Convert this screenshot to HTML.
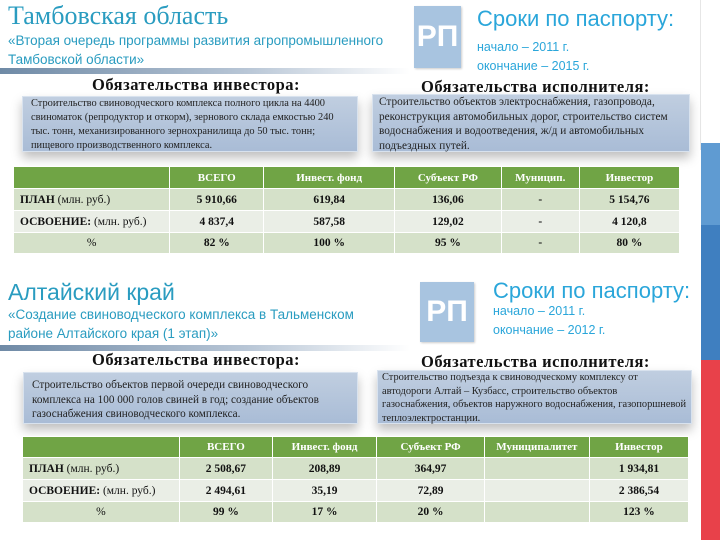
<!DOCTYPE html>
<html><head><meta charset="utf-8">
<style>
body{margin:0;width:720px;height:540px;position:relative;overflow:hidden;background:#fff;font-family:"Liberation Sans","DejaVu Sans",sans-serif}
.a{position:absolute;white-space:nowrap}
.title{color:#2a9cc0;font-size:23px}
.sub{color:#2a9cc0;font-size:13.5px;line-height:19px}
.rp{position:absolute;background:#a8c4e0;color:#fff;font-size:30px;font-weight:bold;display:flex;align-items:center;justify-content:center;box-shadow:1px 1px 2px #ccc}
.srok{color:#2aa6da;font-size:22px}
.dates{color:#2aa6da;font-size:12.5px;line-height:19px}
.rule{position:absolute;height:6px;background:linear-gradient(to right,#6f8aa6,#b8c6d6 60%,rgba(255,255,255,0))}
.hd{font-family:"Liberation Serif",serif;font-weight:bold;font-size:16.5px;color:#111;letter-spacing:.5px}
.box{position:absolute;background:linear-gradient(#c0cee0,#a9bcd6);border:1px solid #d8e2ee;box-shadow:0 6px 10px rgba(0,0,0,.25);font-family:"Liberation Serif",serif;font-size:10.2px;line-height:15px;color:#222;padding:2px 8px;box-sizing:border-box;white-space:normal}
table{position:absolute;border-collapse:collapse;font-family:"Liberation Serif",serif;font-size:11.5px;color:#111}
td{border:1.5px solid #fff;text-align:center;padding:0}
tr.h td{background:#70a445;color:#fff;font-weight:bold;font-size:11px}
tr.r1 td,tr.r3 td{background:#d5e1c9}
tr.r2 td{background:#eaeee6}
td.lab{text-align:left;padding-left:6px;font-weight:bold}
td.lab span{font-weight:normal}
td.v{font-weight:bold}
</style></head><body>
<div class="a" style="left:700px;top:0;width:20px;height:150px;background:#fff;border-left:1px solid #e6e6e6"></div>
<div class="a" style="left:701px;top:143px;width:19px;height:82px;background:#5f9bd2"></div>
<div class="a" style="left:701px;top:225px;width:19px;height:135px;background:#3f7fc0"></div>
<div class="a" style="left:701px;top:360px;width:19px;height:180px;background:#e8414a"></div>

<!-- Section 1 -->
<div class="a title" style="left:8px;top:1px;font-family:'Liberation Serif',serif;font-size:26px">Тамбовская область</div>
<div class="a sub" style="left:8px;top:31px">«Вторая очередь программы развития агропромышленного<br>Тамбовской области»</div>
<div class="rule" style="left:0;top:68px;width:410px"></div>
<div class="rp" style="left:414px;top:6px;width:47px;height:62px">РП</div>
<div class="a srok" style="left:477px;top:6px">Сроки по паспорту:</div>
<div class="a dates" style="left:477px;top:38px">начало – 2011 г.<br>окончание – 2015 г.</div>
<div class="a hd" style="left:92px;top:75px">Обязательства инвестора:</div>
<div class="a hd" style="left:421px;top:77px">Обязательства исполнителя:</div>
<div class="box" style="left:22px;top:96px;width:336px;height:56px;padding:0 6px 0 8px;font-size:10.4px;line-height:14px">Строительство свиноводческого комплекса полного цикла на 4400 свиноматок (репродуктор и откорм), зернового склада емкостью 240 тыс. тонн, механизированного зернохранилища до 50 тыс. тонн; пищевого производственного комплекса.</div>
<div class="box" style="left:372px;top:94px;width:318px;height:58px;font-size:11.3px;line-height:14.5px;padding:0 6px">Строительство объектов электроснабжения, газопровода, реконструкция автомобильных дорог, строительство систем водоснабжения и водоотведения, ж/д и автомобильных подъездных путей.</div>
<table id="t1" style="left:13px;top:166px;width:667px"></table>

<!-- Section 2 -->
<div class="a title" style="left:8px;top:279px">Алтайский край</div>
<div class="a sub" style="left:8px;top:305px">«Создание свиноводческого комплекса в Тальменском<br>районе Алтайского края (1 этап)»</div>
<div class="rule" style="left:0;top:345px;width:410px"></div>
<div class="rp" style="left:420px;top:282px;width:54px;height:60px">РП</div>
<div class="a srok" style="left:493px;top:278px">Сроки по паспорту:</div>
<div class="a dates" style="left:493px;top:302px">начало – 2011 г.<br>окончание – 2012 г.</div>
<div class="a hd" style="left:92px;top:350px">Обязательства инвестора:</div>
<div class="a hd" style="left:421px;top:352px">Обязательства исполнителя:</div>
<div class="box" style="left:23px;top:372px;width:335px;height:52px;padding:5px 12px 0 8px;font-size:11.2px;line-height:14.5px">Строительство объектов первой очереди свиноводческого комплекса на 100 000 голов свиней в год; создание объектов газоснабжения свиноводческого комплекса.</div>
<div class="box" style="left:377px;top:370px;width:315px;height:54px;font-size:10.4px;line-height:13.5px;padding:0 4px">Строительство подъезда к свиноводческому комплексу от автодороги Алтай – Кузбасс, строительство объектов газоснабжения, объектов наружного водоснабжения, газопоршневой теплоэлектростанции.</div>
<table id="t2" style="left:22px;top:436px;width:667px"></table>

<script>
const rowLabels = [["ПЛАН", " (млн. руб.)"], ["ОСВОЕНИЕ:", "  (млн. руб.)"], ["", "%"]];
const head1 = ["ВСЕГО", "Инвест. фонд", "Субъект РФ", "Муницип.", "Инвестор"];
const plan1 = ["5 910,66", "619,84", "136,06", "-", "5 154,76"];
const fact1 = ["4 837,4", "587,58", "129,02", "-", "4 120,8"];
const pct1 = ["82 %", "100 %", "95 %", "-", "80 %"];
const head2 = ["ВСЕГО", "Инвест. фонд", "Субъект РФ", "Муниципалитет", "Инвестор"];
const plan2 = ["2 508,67", "208,89", "364,97", "", "1 934,81"];
const fact2 = ["2 494,61", "35,19", "72,89", "", "2 386,54"];
const pct2 = ["99 %", "17 %", "20 %", "", "123 %"];

function build(id, widths, heights, head, rows, prefix) {
  const t = document.getElementById(id);
  const all = [head].concat(rows);
  all.forEach((vals, ri) => {
    const tr = document.createElement('tr');
    tr.className = ri === 0 ? 'h' : 'r' + ri;
    tr.style.height = heights[ri] + 'px';
    
    
    const lab = document.createElement('td');
    lab.style.width = widths[0] + 'px';
    
    
    if (ri > 0) {
      const L = rowLabels[ri - 1];
      if (L[0]) { lab.className = 'lab'; lab.innerHTML = L[0] + '<span>' + L[1] + '</span>'; }
      else { lab.textContent = L[1]; }
    }
    tr.appendChild(lab);
    vals.forEach((v, ci) => {
      const td = document.createElement('td');
      td.style.width = widths[ci + 1] + 'px';
      td.textContent = v;
      if (ri > 0) td.className = 'v';
      
      
      tr.appendChild(td);
    });
    t.appendChild(tr);
  });
}
build('t1', [152, 95, 133, 108, 78, 101], [22, 22, 22, 21], head1, [plan1, fact1, pct1], 'tambov');
build('t2', [153, 94, 106, 109, 105, 100], [21, 22, 22, 21], head2, [plan2, fact2, pct2], 'altai');
</script>
</body></html>
